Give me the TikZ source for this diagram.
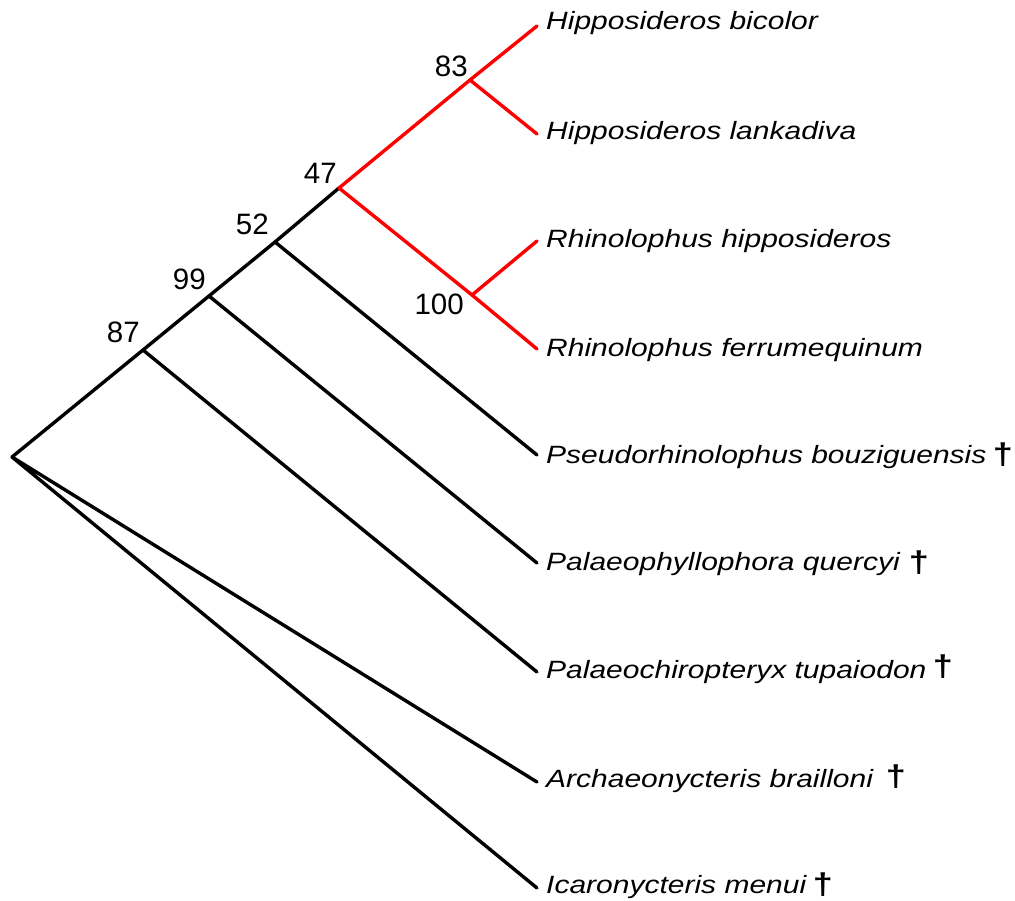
\documentclass[tikz,border=0pt]{standalone}
\usepackage{fontspec}
\setmainfont{Liberation Sans}
\tikzset{
  br/.style={line width=3.4pt, black, line cap=round, line join=round},
  rbr/.style={line width=3.4pt, red, line cap=round, line join=round},
  taxon/.style={anchor=base west, inner sep=0pt, font=\fontsize{25}{25}\selectfont\itshape},
  supp/.style={anchor=base east, inner sep=0pt, font=\fontsize{29.5}{30}\selectfont},
  dag/.style={anchor=center, inner sep=0pt, font=\fontsize{30}{30}\selectfont\bfseries}
}
\newcommand{\wide}[1]{\scalebox{1.2}[1]{#1}}
\begin{document}
\begin{tikzpicture}[x=1pt,y=-1pt]
\useasboundingbox (0,0) rectangle (1015,901);
% internal nodes
\coordinate (root) at (12,457);
\coordinate (n87) at (143,350);
\coordinate (n99) at (209,296);
\coordinate (n52) at (275,242);
\coordinate (n47) at (339,188);
\coordinate (n83) at (470,80);
\coordinate (n100) at (472,295);
% tips
\coordinate (t1) at (537,26);
\coordinate (t2) at (537,134);
\coordinate (t3) at (537,241);
\coordinate (t4) at (537,349);
\coordinate (t5) at (537,455);
\coordinate (t6) at (537,563);
\coordinate (t7) at (537,672);
\coordinate (t8) at (537,782);
\coordinate (t9) at (537,888);
% black branches
\draw[br] (t9) -- (root) -- (t8);
\draw[br] (root) -- (n87) -- (n99) -- (n52) -- (n47);
\draw[br] (n87) -- (t7);
\draw[br] (n99) -- (t6);
\draw[br] (n52) -- (t5);
% red branches
\draw[rbr] (n47) -- (n83) -- (t1);
\draw[rbr] (n83) -- (t2);
\draw[rbr] (n47) -- (n100) -- (t3);
\draw[rbr] (n100) -- (t4);
% labels
\node[taxon] (l1) at (546,30) {\wide{Hipposideros bicolor}};
\node[taxon] (l2) at (546,140) {\wide{Hipposideros lankadiva}};
\node[taxon] (l3) at (546,248) {\wide{Rhinolophus hipposideros}};
\node[taxon] (l4) at (546,356) {\wide{Rhinolophus ferrumequinum}};
\node[taxon] (l5) at (546,463) {\wide{Pseudorhinolophus bouziguensis}};
\node[taxon] (l6) at (546,570) {\wide{Palaeophyllophora quercyi}};
\node[taxon] (l7) at (546,678) {\wide{Palaeochiropteryx tupaiodon}};
\node[taxon] (l8) at (546,787) {\wide{Archaeonycteris brailloni}};
\node[taxon] (l9) at (546,893) {\wide{Icaronycteris menui}};
% daggers
\node[dag] (d5) at (1003,455) {\wide{†}};
\node[dag] (d6) at (919,563) {\wide{†}};
\node[dag] (d7) at (943,667) {\wide{†}};
\node[dag] (d8) at (896,777) {\wide{†}};
\node[dag] (d9) at (823,885) {\wide{†}};
% support values
\node[supp] (s83) at (468,77) {83};
\node[supp] (s47) at (337,184) {47};
\node[supp] (s52) at (269,235) {52};
\node[supp] (s99) at (206,290) {99};
\node[supp] (s87) at (140,343) {87};
\node[supp] (s100) at (464,315) {100};
\end{tikzpicture}
\end{document}
